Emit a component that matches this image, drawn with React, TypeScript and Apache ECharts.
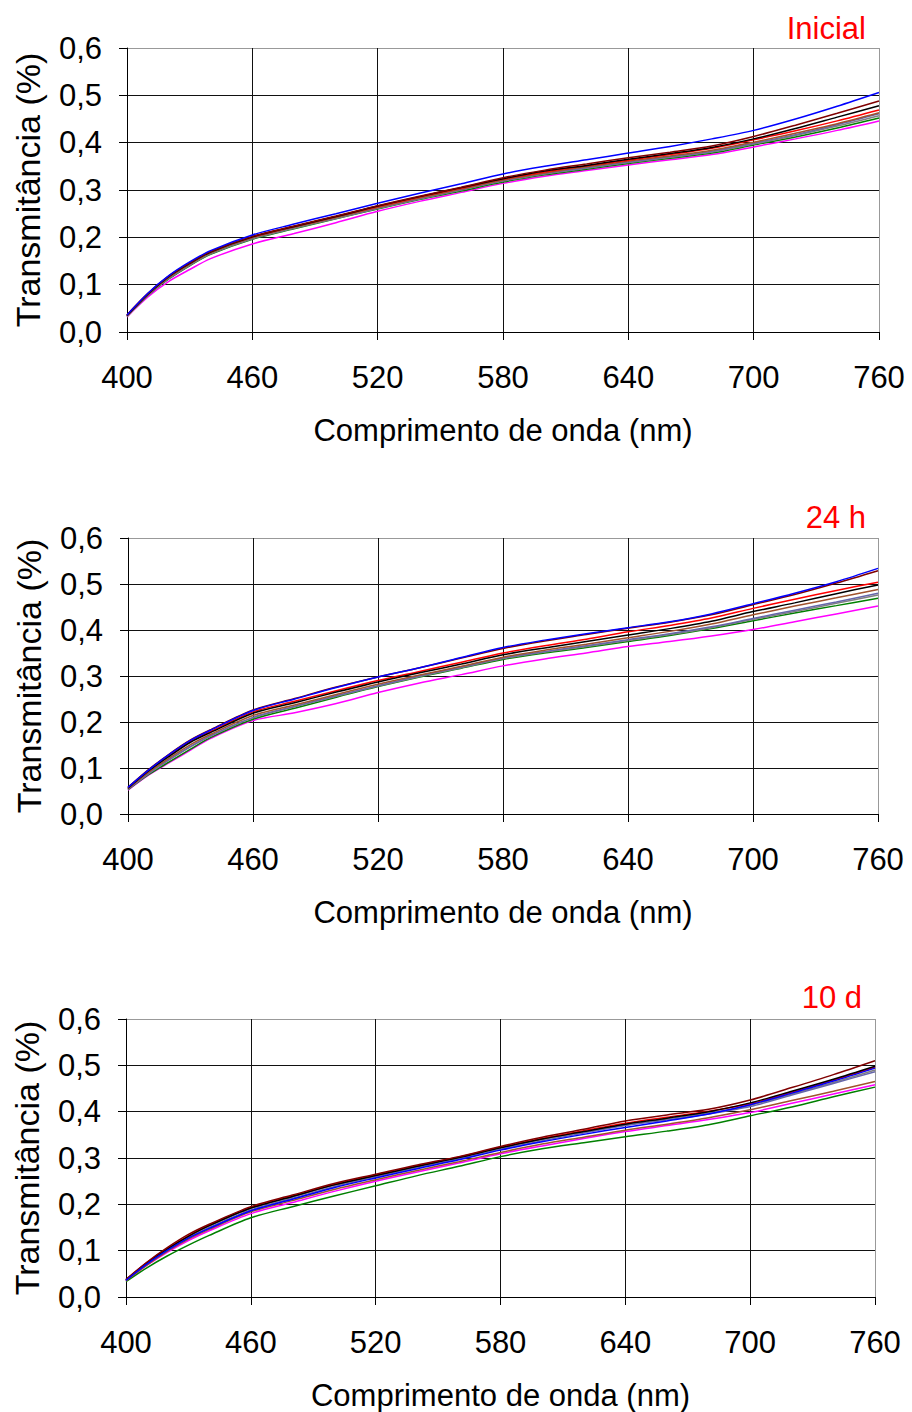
import React, { useEffect, useRef } from "react";
import * as echarts from "echarts";

const WL = [400, 410, 420, 430, 440, 460, 480, 500, 520, 540, 560, 580, 600, 620, 640, 660, 680, 700, 720, 740, 760];

const COLORS = ["#0000FF", "#800000", "#000000", "#FF0000", "#A0522D", "#6666AA", "#808080", "#008000", "#FF00FF"];

// Inicial
const INI_BLUE = [0.036, 0.082, 0.119, 0.148, 0.172, 0.205, 0.228, 0.250, 0.272, 0.293, 0.313, 0.334, 0.350, 0.364, 0.378, 0.392, 0.408, 0.426, 0.450, 0.477, 0.506];
const INI_DARKRED = [0.036, 0.081, 0.118, 0.146, 0.170, 0.202, 0.224, 0.245, 0.267, 0.287, 0.306, 0.326, 0.342, 0.355, 0.368, 0.380, 0.393, 0.413, 0.437, 0.462, 0.488];
const INI_BLACK = [0.035, 0.080, 0.117, 0.145, 0.169, 0.201, 0.223, 0.244, 0.266, 0.286, 0.305, 0.324, 0.340, 0.352, 0.365, 0.377, 0.390, 0.408, 0.430, 0.454, 0.478];
const INI_RED = [0.036, 0.081, 0.118, 0.146, 0.170, 0.201, 0.223, 0.244, 0.265, 0.285, 0.304, 0.323, 0.338, 0.351, 0.363, 0.375, 0.388, 0.406, 0.425, 0.446, 0.469];
const INI_SIENNA = [0.034, 0.079, 0.115, 0.143, 0.167, 0.199, 0.221, 0.242, 0.263, 0.283, 0.302, 0.321, 0.336, 0.349, 0.361, 0.372, 0.384, 0.401, 0.420, 0.440, 0.463];
const INI_SLATE = [0.034, 0.078, 0.114, 0.142, 0.166, 0.198, 0.220, 0.241, 0.262, 0.282, 0.301, 0.320, 0.335, 0.347, 0.359, 0.370, 0.382, 0.399, 0.417, 0.438, 0.461];
const INI_GRAY = [0.033, 0.078, 0.113, 0.141, 0.165, 0.197, 0.219, 0.240, 0.261, 0.281, 0.300, 0.319, 0.334, 0.346, 0.358, 0.369, 0.380, 0.397, 0.415, 0.435, 0.457];
const INI_GREEN = [0.033, 0.077, 0.112, 0.140, 0.164, 0.196, 0.218, 0.239, 0.260, 0.280, 0.298, 0.317, 0.332, 0.344, 0.356, 0.367, 0.378, 0.395, 0.412, 0.431, 0.452];
const INI_MAGENTA = [0.032, 0.074, 0.107, 0.132, 0.155, 0.186, 0.208, 0.231, 0.255, 0.276, 0.295, 0.314, 0.329, 0.341, 0.353, 0.364, 0.375, 0.391, 0.408, 0.426, 0.446];

// 24 h
const H24_BLUE = [0.058, 0.096, 0.130, 0.160, 0.183, 0.225, 0.250, 0.275, 0.298, 0.318, 0.340, 0.362, 0.378, 0.392, 0.405, 0.418, 0.435, 0.457, 0.480, 0.505, 0.534];
const H24_DARKRED = [0.058, 0.097, 0.131, 0.161, 0.184, 0.226, 0.251, 0.276, 0.298, 0.318, 0.339, 0.360, 0.376, 0.390, 0.404, 0.417, 0.433, 0.455, 0.477, 0.502, 0.529];
const H24_BLACK = [0.056, 0.094, 0.126, 0.156, 0.178, 0.219, 0.242, 0.265, 0.287, 0.307, 0.326, 0.346, 0.361, 0.375, 0.389, 0.403, 0.419, 0.440, 0.459, 0.479, 0.498];
const H24_RED = [0.057, 0.095, 0.128, 0.158, 0.180, 0.222, 0.245, 0.268, 0.290, 0.310, 0.330, 0.350, 0.366, 0.380, 0.396, 0.410, 0.426, 0.447, 0.467, 0.486, 0.504];
const H24_SIENNA = [0.055, 0.091, 0.122, 0.151, 0.174, 0.214, 0.237, 0.260, 0.282, 0.302, 0.321, 0.341, 0.356, 0.369, 0.383, 0.397, 0.413, 0.433, 0.452, 0.470, 0.488];
const H24_SLATE = [0.054, 0.089, 0.119, 0.147, 0.171, 0.210, 0.234, 0.257, 0.279, 0.300, 0.319, 0.339, 0.353, 0.366, 0.379, 0.392, 0.407, 0.425, 0.443, 0.461, 0.480];
const H24_GRAY = [0.054, 0.088, 0.118, 0.146, 0.170, 0.209, 0.233, 0.256, 0.278, 0.299, 0.318, 0.338, 0.352, 0.364, 0.377, 0.390, 0.405, 0.423, 0.440, 0.458, 0.476];
const H24_GREEN = [0.053, 0.086, 0.114, 0.141, 0.167, 0.206, 0.230, 0.254, 0.277, 0.298, 0.317, 0.336, 0.350, 0.362, 0.375, 0.388, 0.403, 0.420, 0.437, 0.453, 0.469];
const H24_MAGENTA = [0.052, 0.085, 0.112, 0.139, 0.165, 0.203, 0.220, 0.240, 0.264, 0.285, 0.303, 0.322, 0.337, 0.350, 0.364, 0.375, 0.387, 0.401, 0.418, 0.435, 0.452];

// 10 d
const D10_BLUE = [0.036, 0.071, 0.101, 0.127, 0.148, 0.186, 0.211, 0.236, 0.257, 0.277, 0.296, 0.317, 0.335, 0.351, 0.366, 0.380, 0.395, 0.415, 0.440, 0.466, 0.494];
const D10_DARKRED = [0.038, 0.075, 0.107, 0.135, 0.157, 0.195, 0.220, 0.245, 0.265, 0.285, 0.303, 0.325, 0.345, 0.362, 0.380, 0.393, 0.405, 0.425, 0.452, 0.480, 0.510];
const D10_BLACK = [0.037, 0.073, 0.104, 0.131, 0.154, 0.192, 0.217, 0.242, 0.262, 0.282, 0.301, 0.322, 0.341, 0.357, 0.373, 0.386, 0.400, 0.419, 0.444, 0.470, 0.498];
const D10_RED = [0.037, 0.074, 0.105, 0.132, 0.155, 0.193, 0.218, 0.243, 0.263, 0.283, 0.302, 0.323, 0.342, 0.359, 0.375, 0.388, 0.401, 0.417, 0.442, 0.468, 0.496];
const D10_SIENNA = [0.035, 0.069, 0.099, 0.125, 0.146, 0.184, 0.208, 0.232, 0.253, 0.273, 0.292, 0.312, 0.330, 0.345, 0.360, 0.373, 0.387, 0.404, 0.424, 0.444, 0.465];
const D10_SLATE = [0.036, 0.071, 0.102, 0.128, 0.150, 0.188, 0.213, 0.238, 0.259, 0.279, 0.298, 0.319, 0.337, 0.354, 0.370, 0.382, 0.395, 0.411, 0.436, 0.461, 0.486];
const D10_GRAY = [0.037, 0.072, 0.103, 0.130, 0.153, 0.191, 0.216, 0.241, 0.261, 0.281, 0.300, 0.322, 0.340, 0.356, 0.371, 0.384, 0.397, 0.414, 0.438, 0.463, 0.490];
const D10_GREEN = [0.033, 0.063, 0.089, 0.112, 0.133, 0.171, 0.195, 0.218, 0.240, 0.262, 0.282, 0.303, 0.320, 0.333, 0.346, 0.358, 0.372, 0.391, 0.410, 0.432, 0.453];
const D10_MAGENTA = [0.035, 0.068, 0.097, 0.122, 0.143, 0.180, 0.204, 0.228, 0.250, 0.270, 0.289, 0.309, 0.326, 0.342, 0.357, 0.370, 0.383, 0.398, 0.418, 0.438, 0.458];

const PANELS = [
  { title: "Inicial", series: [INI_BLUE, INI_DARKRED, INI_BLACK, INI_RED, INI_SIENNA, INI_SLATE, INI_GRAY, INI_GREEN, INI_MAGENTA] },
  { title: "24 h", series: [H24_BLUE, H24_DARKRED, H24_BLACK, H24_RED, H24_SIENNA, H24_SLATE, H24_GRAY, H24_GREEN, H24_MAGENTA] },
  { title: "10 d", series: [D10_BLUE, D10_DARKRED, D10_BLACK, D10_RED, D10_SIENNA, D10_SLATE, D10_GRAY, D10_GREEN, D10_MAGENTA] },
];

const X_NAME = "Comprimento de onda (nm)";
const Y_NAME = "Transmitância (%)";

const GRIDS = [
  { left: 127, top: 48, width: 752, height: 284 },
  { left: 128, top: 538, width: 750, height: 276 },
  { left: 126, top: 1019, width: 749, height: 278 },
];
const TITLE_POS = [
  { right: 41, top: 8 },
  { right: 41, top: 497 },
  { right: 45, top: 977 },
];

const FONT = "'Liberation Sans', Arial, sans-serif";
const GRID_COLORS = ["#111", "#111", "#111", "#111", "#111", "#111", "#999"];

export default function App() {
  const ref = useRef<HTMLDivElement>(null);
  useEffect(() => {
    if (!ref.current) return;
    const chart = echarts.init(ref.current, null, { renderer: "svg" });
    const xAxis: any[] = [];
    const yAxis: any[] = [];
    const series: any[] = [];
    PANELS.forEach((p, gi) => {
      xAxis.push({
        gridIndex: gi,
        type: "value",
        min: 400,
        max: 760,
        interval: 60,
        axisLine: { show: true, onZero: false, lineStyle: { color: "#000", width: 1 } },
        axisTick: { show: true, length: 8, lineStyle: { color: "#000" } },
        axisLabel: { fontSize: 31, color: "#000", margin: 30, fontFamily: FONT },
        splitLine: { show: true, lineStyle: { color: GRID_COLORS, width: 1 } },
        name: X_NAME,
        nameLocation: "middle",
        nameGap: 83,
        nameTextStyle: { fontSize: 31, color: "#000", fontFamily: FONT },
      });
      yAxis.push({
        gridIndex: gi,
        type: "value",
        min: 0,
        max: 0.6,
        interval: 0.1,
        axisLine: { show: true, onZero: false, lineStyle: { color: "#000", width: 1 } },
        axisTick: { show: true, length: 8, lineStyle: { color: "#000" } },
        axisLabel: {
          fontSize: 31,
          color: "#000",
          margin: 25,
          fontFamily: FONT,
          formatter: (v: number) => v.toFixed(1).replace(".", ","),
        },
        splitLine: { show: true, lineStyle: { color: GRID_COLORS, width: 1 } },
        name: Y_NAME,
        nameLocation: "middle",
        nameGap: 82,
        nameTextStyle: { fontSize: 34, color: "#000", fontFamily: FONT },
      });
      p.series.forEach((vals, si) => {
        series.push({
          type: "line",
          xAxisIndex: gi,
          yAxisIndex: gi,
          data: WL.map((w, i) => [w, vals[i]]),
          showSymbol: false,
          smooth: 0.3,
          lineStyle: { color: COLORS[si], width: 1.5 },
          itemStyle: { color: COLORS[si] },
          z: 2 + (COLORS.length - si),
        });
      });
    });
    chart.setOption({
      animation: false,
      backgroundColor: "#fff",
      title: PANELS.map((p, i) => ({
        text: p.title,
        right: TITLE_POS[i].right,
        top: TITLE_POS[i].top,
        textStyle: { color: "#FF0000", fontSize: 31, fontWeight: "normal", fontFamily: FONT },
      })),
      grid: GRIDS,
      xAxis,
      yAxis,
      series,
    });
    return () => chart.dispose();
  }, []);
  return (
    <div
      ref={ref}
      style={{ position: "absolute", left: 0, top: 0, width: 912, height: 1412 }}
    />
  );
}
